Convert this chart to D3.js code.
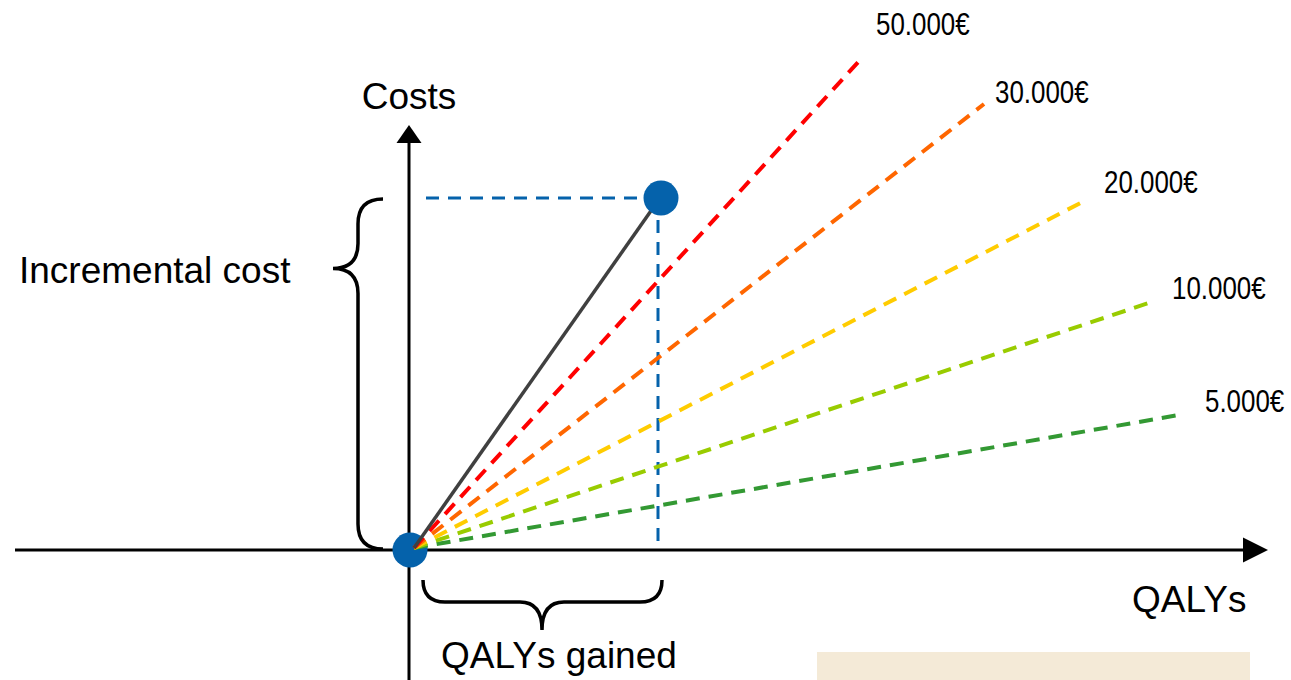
<!DOCTYPE html>
<html>
<head>
<meta charset="utf-8">
<script src="https://cdn.jsdelivr.net/npm/d3@7"></script>
<style>
  html, body { margin: 0; padding: 0; background: #ffffff; }
  svg { display: block; }
  .lbl { font-family: "Liberation Sans", Arial, sans-serif; font-size: 37px; fill: #000; }
  .wtp { font-family: "Liberation Sans", Arial, sans-serif; font-size: 32px; fill: #000; }
</style>
</head>
<body>
<svg id="chart" width="1291" height="680"></svg>
<script>
// Cost-effectiveness plane: incremental QALYs (x) vs incremental costs (y),
// in schematic units where the new intervention sits at (1, 1).
const thresholdLabels = ["50.000€", "30.000€", "20.000€", "10.000€", "5.000€"];
const thresholdEndQaly = [1.80, 2.296, 2.712, 2.956, 3.096];
const thresholdEndCost = [1.392, 1.267, 0.997, 0.702, 0.386];
const thresholdColors = ["#ff0000", "#ff6600", "#ffcc00", "#99cc00", "#339933"];

const originPoint = { qaly: 0, cost: 0 };
const interventionPoint = { qaly: 1, cost: 1 };

const axisTitles = { x: "QALYs", y: "Costs" };
const braceTitles = { cost: "Incremental cost", qaly: "QALYs gained" };

const W = 1291, H = 680;
const svg = d3.select("#chart");

// Scales: 250 px per QALY unit, 352 px per cost unit
const x = d3.scaleLinear().domain([0, 1]).range([410, 660]);
const y = d3.scaleLinear().domain([0, 1]).range([550, 198]);

const ink = "#000000";
const blue = "#0562ab";

// Background note box at the bottom right
svg.append("rect")
  .attr("x", 817).attr("y", 652).attr("width", 433).attr("height", 40)
  .attr("fill", "#f4ead7");

// Axes with arrowheads
const xAxisLeft = x.invert(15), xAxisTip = x.invert(1268);
const yAxisBottom = y.invert(690), yAxisTip = y.invert(125);

svg.append("line")
  .attr("x1", x(xAxisLeft)).attr("x2", x(xAxisTip) - 20)
  .attr("y1", y(0)).attr("y2", y(0))
  .attr("stroke", ink).attr("stroke-width", 3);
svg.append("path")
  .attr("d", `M${x(xAxisTip)},${y(0)} L${x(xAxisTip) - 25},${y(0) - 12.5} L${x(xAxisTip) - 25},${y(0) + 12.5} Z`)
  .attr("fill", ink);

svg.append("line")
  .attr("x1", x(0) - 1).attr("x2", x(0) - 1)
  .attr("y1", y(yAxisBottom)).attr("y2", y(yAxisTip) + 16)
  .attr("stroke", ink).attr("stroke-width", 3);
svg.append("path")
  .attr("d", `M${x(0) - 1},${y(yAxisTip)} L${x(0) - 13.5},${y(yAxisTip) + 18} L${x(0) + 11.5},${y(yAxisTip) + 18} Z`)
  .attr("fill", ink);

// Origin marker
svg.append("circle")
  .attr("cx", x(originPoint.qaly)).attr("cy", y(originPoint.cost)).attr("r", 17.5)
  .attr("fill", blue);

// Projection guides from the intervention point to both axes
svg.append("line")
  .attr("x1", x(0) + 16).attr("x2", x(interventionPoint.qaly))
  .attr("y1", y(interventionPoint.cost)).attr("y2", y(interventionPoint.cost))
  .attr("stroke", blue).attr("stroke-width", 3).attr("stroke-dasharray", "13,9");
svg.append("line")
  .attr("x1", x(interventionPoint.qaly) - 2).attr("x2", x(interventionPoint.qaly) - 2)
  .attr("y1", y(interventionPoint.cost)).attr("y2", y(0))
  .attr("stroke", blue).attr("stroke-width", 3).attr("stroke-dasharray", "13,9");

// Willingness-to-pay threshold rays
const thresholds = thresholdLabels.map((label, i) => ({
  label, qaly: thresholdEndQaly[i], cost: thresholdEndCost[i], color: thresholdColors[i]
}));

svg.selectAll("line.wtp-ray")
  .data(thresholds.slice().reverse())
  .join("line")
  .attr("class", "wtp-ray")
  .attr("x1", x(0) + 4).attr("y1", y(0) - 2)
  .attr("x2", d => x(d.qaly)).attr("y2", d => y(d.cost))
  .attr("stroke", d => d.color).attr("stroke-width", 4)
  .attr("stroke-dasharray", "14,9");

// ICER ray from origin to the intervention
svg.append("line")
  .attr("x1", x(0) + 4).attr("y1", y(0) - 2)
  .attr("x2", x(interventionPoint.qaly)).attr("y2", y(interventionPoint.cost))
  .attr("stroke", "#404040").attr("stroke-width", 3.5);

svg.append("circle")
  .attr("cx", x(interventionPoint.qaly) + 1).attr("cy", y(interventionPoint.cost)).attr("r", 17.5)
  .attr("fill", blue);

// Threshold labels beside the ray ends (condensed by horizontal scaling)
const labelNudge = [[16, -25], [11, -1], [16, -6], [23, -4], [21, -2]];
svg.selectAll("text.wtp")
  .data(thresholds)
  .join("text")
  .attr("class", "wtp")
  .attr("transform", (d, i) =>
    `translate(${x(d.qaly) + labelNudge[i][0]},${y(d.cost) + labelNudge[i][1]}) scale(0.81,1)`)
  .text(d => d.label);

// Curly braces marking incremental cost and QALYs gained
function vBrace(xEnd, xSpine, xTip, yTop, yTip, yBot, r) {
  return `M${xEnd},${yTop} Q${xSpine},${yTop} ${xSpine},${yTop + r}` +
         ` L${xSpine},${yTip - r} Q${xSpine},${yTip} ${xTip},${yTip}` +
         ` Q${xSpine},${yTip} ${xSpine},${yTip + r}` +
         ` L${xSpine},${yBot - r} Q${xSpine},${yBot} ${xEnd},${yBot}`;
}
function hBrace(yEnd, ySpine, yTip, xLeft, xTip, xRight, r) {
  return `M${xLeft},${yEnd} Q${xLeft},${ySpine} ${xLeft + r},${ySpine}` +
         ` L${xTip - r},${ySpine} Q${xTip},${ySpine} ${xTip},${yTip}` +
         ` Q${xTip},${ySpine} ${xTip + r},${ySpine}` +
         ` L${xRight - r},${ySpine} Q${xRight},${ySpine} ${xRight},${yEnd}`;
}

svg.append("path")
  .attr("d", vBrace(x(0) - 27, x(0) - 52, x(0) - 77,
                    y(interventionPoint.cost) + 1, y(0.8), y(0) - 1, 25))
  .attr("fill", "none").attr("stroke", ink).attr("stroke-width", 3.5);

svg.append("path")
  .attr("d", hBrace(y(0) + 30, y(0) + 52, y(0) + 80,
                    x(0) + 13, x(0.528), x(interventionPoint.qaly) + 2, 22))
  .attr("fill", "none").attr("stroke", ink).attr("stroke-width", 3.5);

// Titles
svg.append("text").attr("class", "lbl")
  .attr("x", x(0) - 1).attr("y", 109).attr("text-anchor", "middle")
  .text(axisTitles.y);
svg.append("text").attr("class", "lbl")
  .attr("x", 1132).attr("y", y(0) + 62)
  .text(axisTitles.x);
svg.append("text").attr("class", "lbl")
  .attr("x", 19).attr("y", 283)
  .text(braceTitles.cost);
svg.append("text").attr("class", "lbl")
  .attr("x", 441).attr("y", 668)
  .text(braceTitles.qaly);
</script>
</body>
</html>
